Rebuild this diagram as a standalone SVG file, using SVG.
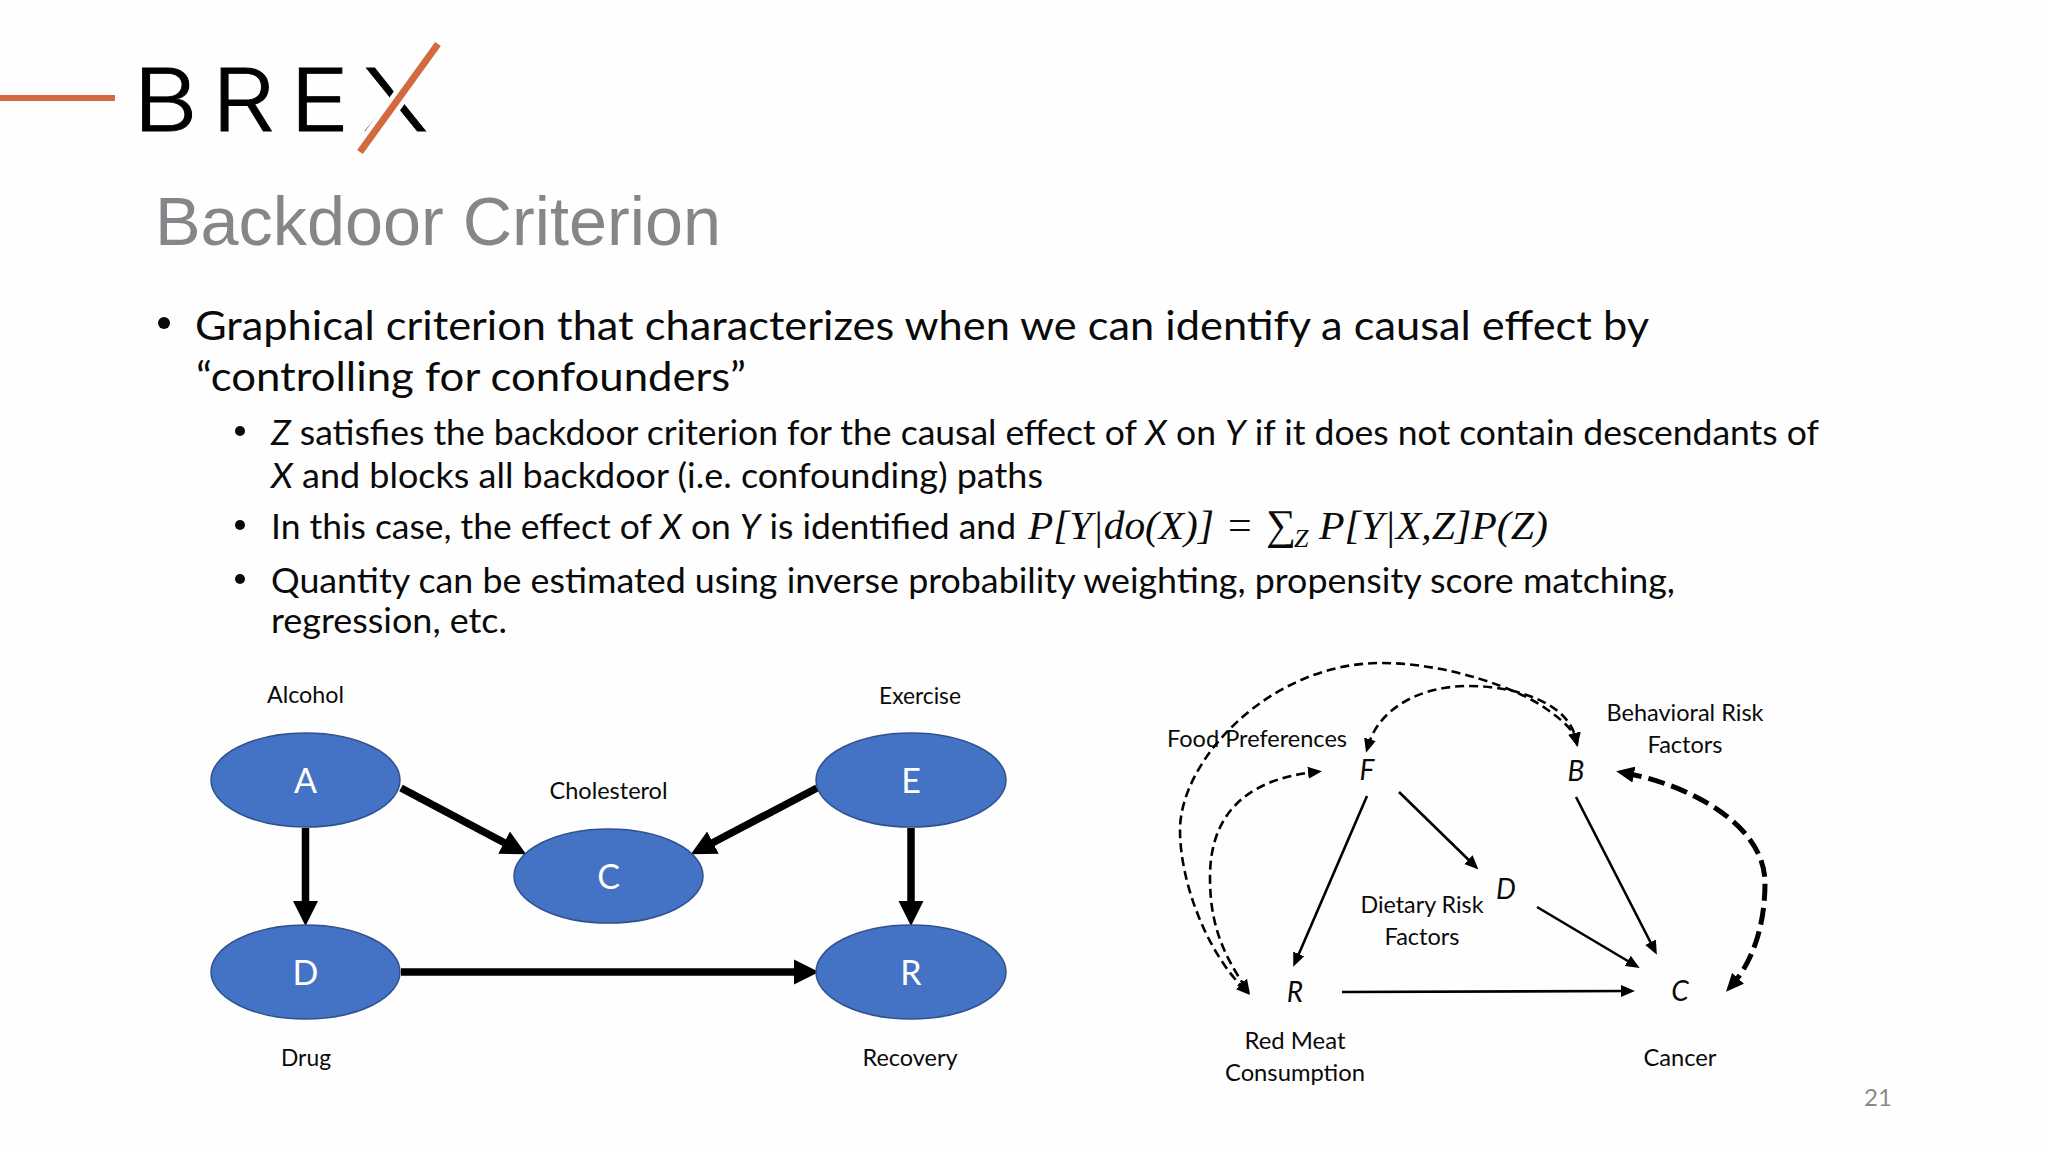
<svg xmlns="http://www.w3.org/2000/svg" width="2048" height="1152" viewBox="0 0 2048 1152">
<style>
text{font-family:"Lato","Carlito","Open Sans",sans-serif;fill:#0a0a0a}
.title{font-family:"Liberation Sans",Arial,sans-serif;font-size:69px;fill:#85858a}
.h1{font-size:41.5px}
.h2{font-size:35.5px}
.lab{font-size:24px;text-anchor:middle}
.nl{font-size:34px;fill:#fff;text-anchor:middle}
.var{font-size:28px;font-style:italic;text-anchor:middle}
.m{font-family:"Liberation Serif",serif;font-size:41px;font-style:italic}
.m0{font-family:"Liberation Serif",serif;font-size:42px}
.bul{fill:#0a0a0a}
.node{fill:#4472c4;stroke:#2f528f;stroke-width:1.5}
.thick{stroke:#000;stroke-width:7.5;fill:none;marker-end:url(#hThick)}
.thin{stroke:#000;stroke-width:2.6;fill:none;marker-end:url(#hThin)}
.dash{stroke:#000;stroke-width:2.6;fill:none;stroke-dasharray:9 5;marker-start:url(#hThin);marker-end:url(#hThin)}
.dashB{stroke:#000;stroke-width:5;fill:none;stroke-dasharray:17 7;marker-start:url(#hBig);marker-end:url(#hBig)}
</style>
<defs>
<marker id="hThick" markerUnits="userSpaceOnUse" markerWidth="25" markerHeight="27" refX="11" refY="13.5" orient="auto"><path d="M0,1 L25,13.5 L0,26 z" fill="#000"/></marker>
<marker id="hThin" markerUnits="userSpaceOnUse" markerWidth="14" markerHeight="14" refX="7" refY="7" orient="auto-start-reverse"><path d="M0,1 L14,7 L0,13 z" fill="#000"/></marker>
<marker id="hBig" markerUnits="userSpaceOnUse" markerWidth="18" markerHeight="18" refX="9" refY="9" orient="auto-start-reverse"><path d="M0,1 L18,9 L0,17 z" fill="#000"/></marker>
</defs>
<rect width="2048" height="1152" fill="#fefefe"/>

<g id="logo">
<rect x="0" y="95" width="115" height="6" fill="#d2693f"/>
<text transform="scale(1.15,1)" x="115.6 184 252 315" y="131" font-size="87" stroke="#000" stroke-width="0.9" style="font-family:Inter,Lato,sans-serif;font-weight:300;fill:#000">BREX</text>
<path d="M438,44 L360,152" stroke="#fefefe" stroke-width="16"/>
<path d="M438,44 L360,152" stroke="#d2693f" stroke-width="7"/>
</g>

<text class="title" x="155" y="245" textLength="566" lengthAdjust="spacingAndGlyphs">Backdoor Criterion</text>

<g id="body">
<circle class="bul" cx="164" cy="323" r="6"/>
<text class="h1" x="195" y="340" textLength="1454" lengthAdjust="spacingAndGlyphs">Graphical criterion that characterizes when we can identify a causal effect by</text>
<text class="h1" x="196" y="391" textLength="550" lengthAdjust="spacingAndGlyphs">“controlling for confounders”</text>
<circle class="bul" cx="240" cy="431" r="5"/>
<text class="h2" x="271" y="445" textLength="1548" lengthAdjust="spacingAndGlyphs"><tspan font-style="italic">Z</tspan> satisfies the backdoor criterion for the causal effect of <tspan font-style="italic">X</tspan> on <tspan font-style="italic">Y</tspan> if it does not contain descendants of</text>
<text class="h2" x="271" y="488" textLength="772" lengthAdjust="spacingAndGlyphs"><tspan font-style="italic">X</tspan> and blocks all backdoor (i.e. confounding) paths</text>
<circle class="bul" cx="240" cy="525" r="5"/>
<text class="h2" x="271" y="539" textLength="745" lengthAdjust="spacingAndGlyphs">In this case, the effect of <tspan font-style="italic">X</tspan> on <tspan font-style="italic">Y</tspan> is identified and</text>
<text class="m" x="1028" y="539" textLength="186" lengthAdjust="spacingAndGlyphs">P[Y|do(X)]</text>
<text class="m0" x="1228" y="539">=</text>
<text class="m0" x="1266" y="539" font-size="32">∑</text>
<text class="m" x="1294" y="547" style="font-size:26px">Z</text>
<text class="m" x="1319" y="539" textLength="229" lengthAdjust="spacingAndGlyphs">P[Y|X,Z]P(Z)</text>
<circle class="bul" cx="240" cy="579" r="5"/>
<text class="h2" x="271" y="592.5" textLength="1404" lengthAdjust="spacingAndGlyphs">Quantity can be estimated using inverse probability weighting, propensity score matching,</text>
<text class="h2" x="271" y="632.5" textLength="236" lengthAdjust="spacingAndGlyphs">regression, etc.</text>
</g>

<g id="connectors">
<path class="thick" d="M305.5,828 L305.5,912"/>
<path class="thick" d="M911,828 L911,912"/>
<path class="thick" d="M401,972 L805,972"/>
<path class="thick" d="M401,788 L513.8,847.8"/>
<path class="thick" d="M817,788 L703.2,847.8"/>
<path class="thin" d="M1367,796 L1296,960.4"/>
<path class="thin" d="M1399,792 L1473.4,864.5"/>
<path class="thin" d="M1576,797 L1653.7,948.5"/>
<path class="thin" d="M1537,907 L1633.7,964.5"/>
<path class="thin" d="M1342,992 L1628,991"/>
<path class="dash" d="M1245,990 C1205,950 1180,880 1180,830 C1180,760 1270,663 1381,663 C1450,663 1520,690 1545,708 C1565,722 1573,730 1576,740"/>
<path class="dash" d="M1368,746 C1380,705 1425,686 1468,686 C1520,686 1570,705 1576,740"/>
<path class="dash" d="M1246,988 C1220,950 1210,920 1210,877 C1210,820 1240,780 1315,772"/>
<path class="dashB" d="M1625,773 C1690,785 1765,825 1765,883 C1765,930 1750,965 1732,985"/>
</g>

<g id="node-A"><ellipse class="node" cx="305.5" cy="780" rx="94.5" ry="47"/><text class="nl" x="305.5" y="793">A</text><text class="lab" x="305.5" y="703" textLength="77" lengthAdjust="spacingAndGlyphs">Alcohol</text></g>
<g id="node-E"><ellipse class="node" cx="911" cy="780" rx="95" ry="47"/><text class="nl" x="911" y="793">E</text><text class="lab" x="920" y="704" textLength="82" lengthAdjust="spacingAndGlyphs">Exercise</text></g>
<g id="node-C"><ellipse class="node" cx="608.5" cy="876" rx="94.5" ry="47"/><text class="nl" x="608.5" y="889">C</text><text class="lab" x="608.5" y="799" textLength="118" lengthAdjust="spacingAndGlyphs">Cholesterol</text></g>
<g id="node-D"><ellipse class="node" cx="305.5" cy="972" rx="94.5" ry="47"/><text class="nl" x="305.5" y="985">D</text><text class="lab" x="306" y="1065.5" textLength="50" lengthAdjust="spacingAndGlyphs">Drug</text></g>
<g id="node-R"><ellipse class="node" cx="911" cy="972" rx="95" ry="47"/><text class="nl" x="911" y="985">R</text><text class="lab" x="910" y="1065.5" textLength="95" lengthAdjust="spacingAndGlyphs">Recovery</text></g>

<g id="node-F2"><text class="var" x="1367" y="780">F</text><text class="lab" x="1257" y="747" textLength="180" lengthAdjust="spacingAndGlyphs">Food Preferences</text></g>
<g id="node-B2"><text class="var" x="1576" y="781">B</text><text class="lab" x="1685" y="720.5" textLength="157" lengthAdjust="spacingAndGlyphs">Behavioral Risk</text><text class="lab" x="1685" y="753" textLength="75" lengthAdjust="spacingAndGlyphs">Factors</text></g>
<g id="node-D2"><text class="var" x="1506" y="899">D</text><text class="lab" x="1422" y="913" textLength="123" lengthAdjust="spacingAndGlyphs">Dietary Risk</text><text class="lab" x="1422" y="945" textLength="75" lengthAdjust="spacingAndGlyphs">Factors</text></g>
<g id="node-R2"><text class="var" x="1295" y="1002">R</text><text class="lab" x="1295" y="1049" textLength="101" lengthAdjust="spacingAndGlyphs">Red Meat</text><text class="lab" x="1295" y="1081" textLength="140" lengthAdjust="spacingAndGlyphs">Consumption</text></g>
<g id="node-C2"><text class="var" x="1680" y="1001">C</text><text class="lab" x="1680" y="1065.5" textLength="73" lengthAdjust="spacingAndGlyphs">Cancer</text></g>

<text x="1878" y="1106" text-anchor="middle" font-size="24" style="fill:#8a8a8a">21</text>
</svg>
